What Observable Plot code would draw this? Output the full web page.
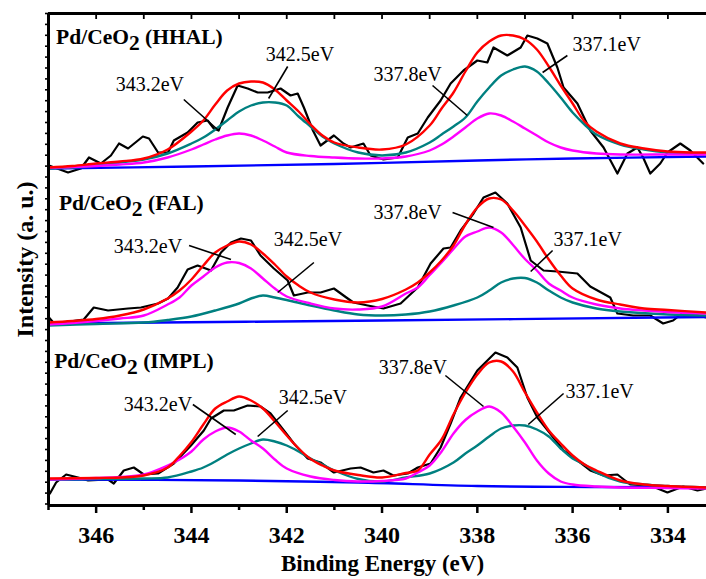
<!DOCTYPE html>
<html>
<head>
<meta charset="utf-8">
<script src="https://cdn.jsdelivr.net/npm/d3@7"></script>
<script src="https://cdn.jsdelivr.net/npm/@observablehq/plot@0.6"></script>
<style>
  html, body { margin: 0; padding: 0; background: #fff; }
  #chart { width: 706px; height: 579px; }
  #chart svg, #chart svg text, #chart svg tspan { font-family: "Liberation Serif", "DejaVu Serif", "Tinos", "Times New Roman", Times, serif !important; }
</style>
</head>
<body>
<div id="chart"></div>
<script>
// ---------- tick values ----------
const xMajor = [346, 344, 342, 340, 338, 336, 334];
const xMinor = [347, 345, 343, 341, 339, 337, 335];
const xTop = [346, 345, 344, 343, 342, 341, 340, 339, 338, 337, 336, 335, 334];

// ---------- Pd/CeO2 (HHAL) : [binding energy eV, intensity a.u.] ----------
const hhalRaw = [[346.99,340],[346.59,333],[346.32,337],[346.15,348],[345.90,342],[345.69,350],[345.52,362],[345.33,357],[345.02,369],[344.89,367],[344.70,353],[344.49,353],[344.37,365],[344.08,373],[343.87,383],[343.66,385],[343.53,377],[343.43,375],[343.24,398],[343.03,420],[342.82,417],[342.61,413],[342.40,413],[342.13,417],[341.92,410],[341.77,412],[341.64,398],[341.45,375],[341.29,360],[341.01,370],[340.81,362],[340.66,358],[340.39,362],[340.24,350],[339.97,346],[339.67,348],[339.46,368],[339.25,372],[339.04,388],[338.77,405],[338.56,422],[338.29,435],[338.00,445],[337.79,443],[337.66,458],[337.37,450],[337.09,458],[336.95,470],[336.74,467],[336.53,462],[336.32,438],[336.19,418],[335.90,402],[335.63,375],[335.35,358],[335.06,332],[334.85,352],[334.64,358],[334.52,348],[334.37,332],[334.16,342],[334.01,353],[333.74,362],[333.53,355],[333.26,342]];
const hhalEnvelope = [[347,338],[346.5,339.5],[346,342],[345.5,344],[345,347],[344.5,356],[344,374],[343.75,385],[343.5,401],[343.25,415],[343,422],[342.75,424],[342.5,423],[342.25,416],[342,405],[341.75,394],[341.5,381],[341.25,370],[341,363],[340.5,358],[340,356],[339.5,361],[339,380],[338.75,397],[338.5,413],[338.25,434],[338,453],[337.75,464],[337.5,470],[337.25,470],[337,466],[336.75,456],[336.5,439],[336.25,420],[336,402],[335.75,384],[335.5,374],[335,362],[334.5,357],[334,354],[333.5,353],[333.19,353]];
const hhalTeal = [[347,337],[346.5,338],[346,340],[345.5,343],[345,346],[344.5,352],[344,362],[343.75,368],[343.5,376],[343.25,385],[343,394],[342.75,400],[342.5,403],[342.25,403],[342,400],[341.75,389],[341.5,379],[341.25,369],[341,362],[340.5,353],[340,350],[339.5,353],[339,363],[338.75,371],[338.5,379],[338.25,388],[338,404],[337.75,418],[337.5,430],[337.25,436],[337,439],[336.75,434],[336.5,422],[336.25,408],[336,393],[335.75,381],[335.5,371],[335,361],[334.5,356],[334,353],[333.5,352],[333.19,351]];
const hhalMagenta = [[347,338],[346.5,338.5],[346,339.5],[345.5,341],[345,343],[344.5,348],[344,356],[343.75,361],[343.5,366],[343.25,370],[343,372],[342.75,370],[342.5,365],[342.25,359],[342,353],[341.5,349.5],[341,348],[340.5,347],[340,347],[339.5,349],[339,355],[338.75,361],[338.5,369],[338.25,378],[338,387],[337.75,392],[337.5,390],[337.25,384],[337,377],[336.75,370],[336.5,363],[336.25,358],[336,355],[335.5,352],[335,351],[334,351],[333.19,351]];
const hhalBaseline = [[347,337],[344,339],[341,341.5],[338,345],[336,347],[333.19,349]];

// ---------- Pd/CeO2 (FAL) ----------
const falRaw = [[346.99,188],[346.88,182],[346.26,186],[346.05,198],[345.75,195],[345.33,197],[345.06,198],[344.70,202],[344.49,207],[344.29,218],[344.08,236],[343.87,240],[343.59,235],[343.38,253],[343.17,263],[342.96,267],[342.75,265],[342.55,250],[342.27,237],[341.98,225],[341.85,210],[341.56,213],[341.29,213],[341.01,217],[340.72,207],[340.60,203],[340.30,200],[339.97,197],[339.61,202],[339.25,218],[338.98,242],[338.71,257],[338.56,258],[338.35,275],[338.08,292],[337.87,308],[337.62,313],[337.37,302],[337.09,278],[336.88,245],[336.61,235],[336.32,234],[335.90,232],[335.63,219],[335.21,208],[335.06,192],[334.73,190],[334.37,190],[334.10,182],[333.89,185],[333.68,193],[333.19,188]];
const falEnvelope = [[347,183],[346.5,184.5],[346,186.5],[345.5,190],[345,196],[344.5,207],[344.25,215],[344,226],[343.75,240],[343.5,253],[343.25,260],[343,264],[342.75,261],[342.5,252],[342.25,241],[342,229],[341.75,220],[341.5,213],[341,206],[340.5,203],[340,206.5],[339.5,216],[339.25,223],[339,233],[338.75,245],[338.5,260],[338.25,281],[338,298],[337.75,307],[337.5,306],[337.25,295],[337,280],[336.75,264],[336.5,246],[336.25,230],[336,217],[335.5,206],[335,201],[334.5,197],[334,195.5],[333.19,193]];
const falMagenta = [[347,181],[346.5,182.5],[346,184.5],[345.5,187],[345,190],[344.5,201],[344.25,208],[344,220],[343.75,229],[343.5,238],[343.25,243],[343,242.5],[342.75,237],[342.5,227],[342.25,217],[342,209],[341.5,202],[341,197],[340.5,196],[340,199],[339.5,212],[339.25,218],[339,230.5],[338.75,243],[338.5,256.5],[338.25,269],[338,274],[337.75,278],[337.5,273],[337.25,260.5],[337,246.5],[336.75,235],[336.5,222],[336.25,215],[336,208],[335.5,201],[335,197],[334.5,195],[334,193.5],[333.19,192]];
const falTeal = [[347,180],[346,181.5],[345,183],[344.5,185.5],[344,189],[343.5,195],[343,202],[342.75,207],[342.5,210],[342.25,208],[342,205.5],[341.5,200],[341,195],[340.5,191],[340,190],[339.5,191],[339,194],[338.5,200],[338,208],[337.75,215],[337.5,223],[337.25,227],[337,227.5],[336.75,223],[336.5,215],[336.25,208],[336,203],[335.5,197],[335,194],[334,191],[333.19,190]];
const falBaseline = [[347,182],[340,185],[333.19,188.5]];

// ---------- Pd/CeO2 (IMPL) ----------
const implRaw = [[346.97,12],[346.84,23],[346.63,31],[346.38,28],[346.17,25],[345.75,26],[345.63,22],[345.42,35],[345.21,38],[345.00,31],[344.70,32],[344.37,42],[344.01,60],[343.74,75],[343.59,87],[343.32,95],[343.11,95],[342.82,100],[342.55,99],[342.34,92],[342.06,75],[341.85,62],[341.56,47],[341.29,43],[341.01,33],[340.66,37],[340.45,38],[340.18,33],[339.97,35],[339.76,30],[339.46,32],[339.25,38],[338.98,42],[338.77,58],[338.56,82],[338.35,108],[338.00,135],[337.62,153],[337.37,148],[337.16,138],[336.95,108],[336.74,88],[336.47,72],[336.19,55],[335.90,45],[335.63,35],[335.35,30],[335.06,31],[334.79,21],[334.37,20],[334.01,13],[333.68,19],[333.38,15],[333.19,17]];
const implEnvelope = [[347,27],[346,27.5],[345.5,28],[345,30],[344.5,38],[344.25,49.5],[344,63.5],[343.75,81],[343.5,97],[343.25,104],[343,109],[342.75,105],[342.5,97],[342.25,84],[342,70],[341.75,57],[341.5,46.5],[341.25,40],[341,35],[340.5,30.5],[340,28],[339.5,32.5],[339.25,35],[339,51],[338.75,66],[338.5,91],[338.25,113],[338,131],[337.75,143],[337.5,144],[337.25,134],[337,113],[336.75,93],[336.5,75],[336.25,62],[336,50],[335.75,41],[335.5,35],[335,25],[334.5,21],[334,19.5],[333.19,18]];
const implMagenta = [[347,26],[346,27.5],[345.5,28.5],[345,31],[344.5,40],[344.25,46],[344,54],[343.75,66],[343.5,74],[343.25,78],[343,74],[342.75,65],[342.5,57],[342.25,46],[342,37],[341.5,29],[341,25.5],[340.5,24],[340,24.5],[339.5,27],[339.25,33],[339,40],[338.75,54],[338.5,72],[338.25,85.5],[338,94],[337.75,99],[337.5,93],[337.25,79],[337,63],[336.75,45],[336.5,32],[336.25,24],[336,21],[335.5,19],[335,18],[334,17.5],[333.19,17]];
const implTeal = [[347,26],[346,26.5],[345,27],[344.5,28],[344,34],[343.75,38],[343.5,44],[343.25,51],[343,57],[342.75,62],[342.5,66],[342.25,64],[342,60],[341.75,54],[341.5,47],[341.25,41],[341,35],[340.5,26.5],[340,24],[339.5,28],[339,32],[338.5,43],[338.25,52],[338,60],[337.75,69],[337.5,77],[337.25,80],[337,80],[336.75,76],[336.5,69],[336.25,57],[336,47],[335.75,41],[335.5,33],[335,24],[334.5,21],[334,19.5],[333.19,18]];
const implBaseline = [[347,26],[343,25],[340.5,23],[338,19.5],[335.5,18.5],[333.19,18]];

// ---------- annotations ----------
const panelLabels = [
  {x: 346.84, y: 462, sample: "HHAL"},
  {x: 346.78, y: 296, sample: "FAL"},
  {x: 346.88, y: 138, sample: "IMPL"}
];
const peakLabels = [
  {x: 345.59, y: 415, text: "343.2eV"}, {x: 342.44, y: 445, text: "342.5eV"},
  {x: 340.18, y: 425, text: "337.8eV"}, {x: 336.00, y: 455, text: "337.1eV"},
  {x: 345.63, y: 253, text: "343.2eV"}, {x: 342.27, y: 260, text: "342.5eV"},
  {x: 340.18, y: 287, text: "337.8eV"}, {x: 336.40, y: 260, text: "337.1eV"},
  {x: 345.42, y: 95, text: "343.2eV"}, {x: 342.17, y: 102, text: "342.5eV"},
  {x: 340.07, y: 132, text: "337.8eV"}, {x: 336.15, y: 108, text: "337.1eV"}
];
const leaders = [
  [344.16,406,343.43,375],[341.98,439,342.38,407],[338.94,420,338.21,390],[336.11,450,336.63,433],
  [344.05,260,343.17,246],[341.43,243,342.19,213],[338.52,293,337.66,278],[336.42,255,336.88,234],
  [343.97,101,343.07,71],[341.98,95,342.61,69],[338.67,130,337.87,99],[336.19,112,336.93,81]
];

const yTicks = d3.range(492, 0, -10.9);

const FONT = "Liberation Serif, DejaVu Serif, Tinos, Times New Roman, serif";
const smooth = (data, color) => Plot.line(data, {x: d => d[0], y: d => d[1], stroke: color, strokeWidth: 2.4, curve: "catmull-rom", clip: true});
const raw = (data) => Plot.line(data, {x: d => d[0], y: d => d[1], stroke: "#000", strokeWidth: 2.2, strokeLinejoin: "round", clip: true});

const panels = [
  [hhalRaw, hhalBaseline, hhalTeal, hhalMagenta, hhalEnvelope],
  [falRaw, falBaseline, falTeal, falMagenta, falEnvelope],
  [implRaw, implBaseline, implTeal, implMagenta, implEnvelope]
];
const curveMarks = panels.flatMap(([r, b, t, m, e]) => [
  raw(r), smooth(b, "#0000ff"), smooth(t, "#008080"), smooth(m, "#ff00ff"), smooth(e, "#ff0000")
]);

const chart = Plot.plot({
  width: 706,
  height: 579,
  marginLeft: 48,
  marginRight: 0,
  marginTop: 13,
  marginBottom: 74,
  style: {fontFamily: FONT, background: "#fff", overflow: "visible"},
  x: {domain: [347, 333.19]},
  y: {domain: [0, 492]},
  marks: [
    ...curveMarks,
    Plot.link(leaders, {x1: d => d[0], y1: d => d[1], x2: d => d[2], y2: d => d[3], stroke: "#000", strokeWidth: 1.6}),
    Plot.text(peakLabels, {x: "x", y: "y", text: "text", textAnchor: "start", lineAnchor: "bottom", fontSize: 20, fontFamily: FONT, fill: "#000"}),
    Plot.text(panelLabels, {x: "x", y: "y", text: d => "Pd/CeO2 (" + d.sample + ")", textAnchor: "start", lineAnchor: "bottom", fontSize: 21.5, fontWeight: "bold", fontFamily: FONT, fill: "#000"}),
    Plot.axisX(xMajor, {anchor: "bottom", tickSize: 8, tickPadding: 12, strokeWidth: 2.5, fontSize: 24, fontWeight: "bold", fontFamily: FONT, tickFormat: d => String(d), label: null, fill: "#000"}),
    Plot.axisX(xMinor, {anchor: "bottom", tickSize: 5, strokeWidth: 2.5, tickFormat: () => "", label: null}),
    Plot.axisX(xTop, {anchor: "top", tickSize: 4, dy: 5, strokeWidth: 1.8, tickFormat: () => "", label: null}),
    Plot.axisY(yTicks, {anchor: "left", tickSize: 3, strokeWidth: 1.6, tickFormat: () => "", label: null}),
    Plot.ruleX([347], {stroke: "#000", strokeWidth: 3}),
    Plot.ruleY([0, 492], {stroke: "#000", strokeWidth: 3}),
    Plot.text(["Intensity (a. u.)"], {frameAnchor: "left", textAnchor: "middle", rotate: -90, dx: -23, fontSize: 24, fontWeight: "bold", fontFamily: FONT, fill: "#000"}),
    Plot.text(["Binding Energy (eV)"], {frameAnchor: "bottom", textAnchor: "middle", lineAnchor: "bottom", dx: 5, dy: 65, fontSize: 23, fontWeight: "bold", fontFamily: FONT, fill: "#000"})
  ]
});

// lowered "2" in CeO2 panel labels
chart.querySelectorAll("text").forEach(t => {
  const s = t.textContent;
  if (s.startsWith("Pd/CeO2")) {
    const rest = s.slice(7);
    while (t.firstChild) t.removeChild(t.firstChild);
    const ns = "http://www.w3.org/2000/svg";
    const a = document.createElementNS(ns, "tspan"); a.textContent = "Pd/CeO";
    const b = document.createElementNS(ns, "tspan"); b.textContent = "2"; b.setAttribute("dy", "6");
    const c = document.createElementNS(ns, "tspan"); c.textContent = rest; c.setAttribute("dy", "-6");
    t.appendChild(a); t.appendChild(b); t.appendChild(c);
  }
});

document.getElementById("chart").appendChild(chart);
</script>
</body>
</html>
